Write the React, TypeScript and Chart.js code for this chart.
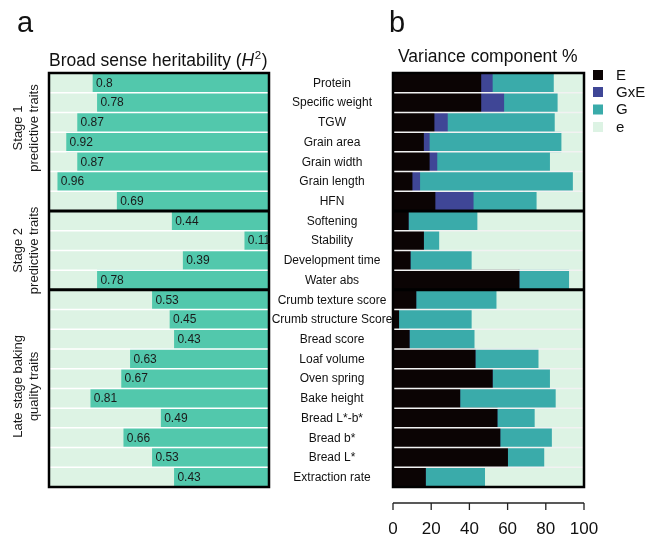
import React, { useEffect, useRef } from "react";
import { Chart, registerables } from "chart.js";
Chart.register(...registerables);

const FONT = '"Liberation Sans", Arial, Helvetica, sans-serif';

const traits = [
  "Protein", "Specific weight", "TGW", "Grain area", "Grain width", "Grain length", "HFN",
  "Softening", "Stability", "Development time", "Water abs",
  "Crumb texture score", "Crumb structure Score", "Bread score", "Loaf volume", "Oven spring",
  "Bake height", "Bread L*-b*", "Bread b*", "Bread L*", "Extraction rate",
];
const heritability = [0.8, 0.78, 0.87, 0.92, 0.87, 0.96, 0.69, 0.44, 0.11, 0.39, 0.78, 0.53, 0.45, 0.43, 0.63, 0.67, 0.81, 0.49, 0.66, 0.53, 0.43];
const heritabilityLabels = ["0.8", "0.78", "0.87", "0.92", "0.87", "0.96", "0.69", "0.44", "0.11", "0.39", "0.78", "0.53", "0.45", "0.43", "0.63", "0.67", "0.81", "0.49", "0.66", "0.53", "0.43"];

const varE = [46, 46, 21.5, 16, 19, 10, 22, 8, 16, 9, 66, 12, 3, 8.5, 43, 52, 35, 54.5, 56, 60, 17];
const varGxE = [6, 12, 7, 3, 4, 4, 20, 0, 0, 0, 0, 0, 0, 0, 0, 0, 0, 0, 0, 0, 0];
const varG = [32, 28, 56, 69, 59, 80, 33, 36, 8, 32, 26, 42, 38, 34, 33, 30, 50, 19.5, 27, 19, 31];
const varResid = [16, 14, 15.5, 12, 18, 6, 25, 56, 76, 59, 8, 46, 59, 57.5, 24, 18, 15, 26, 17, 21, 52];

const componentNames = ["E", "GxE", "G", "e"];
const componentColors = ["#0b0404", "#3f4696", "#3aabaa", "#ddf3e4"];

const groupLines = [["Stage 1", "predictive traits"], ["Stage 2", "predictive traits"], ["Late stage baking", "quality traits"]];
const groupFirst = [0, 7, 11];
const groupLast = [6, 10, 20];
const groupLabelShift = [-14, 0, -2];

const H_BAR = "#52c8ac";
const H_BG = "#ddf3e4";

function rowBoundaries(chart: any) {
  const ys = chart.scales.y;
  const out: number[] = [];
  for (let i = 1; i < traits.length; i++) {
    out.push((ys.getPixelForTick(i - 1) + ys.getPixelForTick(i)) / 2);
  }
  return out;
}

function drawFrame(chart: any, sepColor: string) {
  const ctx = chart.ctx;
  const a = chart.chartArea;
  const b = rowBoundaries(chart);
  ctx.save();
  ctx.strokeStyle = sepColor;
  ctx.lineWidth = 1.5;
  b.forEach((y) => {
    ctx.beginPath();
    ctx.moveTo(a.left, y);
    ctx.lineTo(a.right, y);
    ctx.stroke();
  });
  ctx.strokeStyle = "#000";
  ctx.lineWidth = 3;
  groupFirst.slice(1).forEach((g) => {
    const y = b[g - 1];
    ctx.beginPath();
    ctx.moveTo(a.left, y);
    ctx.lineTo(a.right, y);
    ctx.stroke();
  });
  ctx.lineWidth = 2.5;
  ctx.strokeRect(a.left, a.top, a.right - a.left, a.bottom - a.top);
  ctx.restore();
}

const leftPlugin = {
  id: "leftDecor",
  beforeDatasetsDraw(chart: any) {
    const a = chart.chartArea;
    const ctx = chart.ctx;
    ctx.save();
    ctx.fillStyle = H_BG;
    ctx.fillRect(a.left, a.top, a.right - a.left, a.bottom - a.top);
    ctx.restore();
  },
  afterDatasetsDraw(chart: any) {
    const ctx = chart.ctx;
    drawFrame(chart, "#ffffff");
    const meta = chart.getDatasetMeta(0);
    ctx.save();
    ctx.fillStyle = "#1a1a1a";
    ctx.font = `12px ${FONT}`;
    ctx.textAlign = "left";
    ctx.textBaseline = "middle";
    meta.data.forEach((el: any, i: number) => {
      ctx.fillText(heritabilityLabels[i], el.x + 3, el.y + 0.5);
    });
    // group labels
    const ys = chart.scales.y;
    ctx.font = `13px ${FONT}`;
    ctx.textAlign = "center";
    groupLines.forEach((lines, gi) => {
      const cy = (ys.getPixelForTick(groupFirst[gi]) + ys.getPixelForTick(groupLast[gi])) / 2 + groupLabelShift[gi];
      const xs = [18, 34];
      lines.forEach((t, li) => {
        ctx.save();
        ctx.translate(xs[li], cy);
        ctx.rotate(-Math.PI / 2);
        ctx.fillText(t, 0, 0);
        ctx.restore();
      });
    });
    // title
    ctx.fillStyle = "#111";
    ctx.textBaseline = "alphabetic";
    ctx.textAlign = "left";
    let x = 49;
    const base = 66;
    ctx.font = `17.5px ${FONT}`;
    const p1 = "Broad sense heritability (";
    ctx.fillText(p1, x, base);
    x += ctx.measureText(p1).width;
    ctx.font = `italic 17.5px ${FONT}`;
    ctx.fillText("H", x, base);
    x += ctx.measureText("H").width;
    ctx.font = `11.5px ${FONT}`;
    ctx.fillText("2", x + 0.5, base - 7.5);
    x += ctx.measureText("2").width + 1;
    ctx.font = `17.5px ${FONT}`;
    ctx.fillText(")", x, base);
    // panel letter
    ctx.font = `29px ${FONT}`;
    ctx.fillText("a", 17, 32);
    ctx.restore();
  },
};

const rightPlugin = {
  id: "rightDecor",
  afterDatasetsDraw(chart: any) {
    const ctx = chart.ctx;
    drawFrame(chart, "#f2f2f2");
    const ys = chart.scales.y;
    const xs = chart.scales.x;
    const a = chart.chartArea;
    ctx.save();
    // category labels
    ctx.fillStyle = "#111";
    ctx.font = `12px ${FONT}`;
    ctx.textAlign = "center";
    ctx.textBaseline = "middle";
    traits.forEach((t, i) => {
      ctx.fillText(t, 62, ys.getPixelForTick(i) + 0.5);
    });
    // axis line with ticks
    const ay = a.bottom + 16;
    ctx.strokeStyle = "#222";
    ctx.lineWidth = 1.3;
    ctx.beginPath();
    ctx.moveTo(xs.getPixelForValue(xs.min), ay);
    ctx.lineTo(xs.getPixelForValue(xs.max), ay);
    ctx.stroke();
    xs.ticks.forEach((t: any) => {
      const px = xs.getPixelForValue(t.value);
      ctx.beginPath();
      ctx.moveTo(px, ay);
      ctx.lineTo(px, ay + 7);
      ctx.stroke();
    });
    // legend
    const lx = 323;
    const lys = [75, 92, 109.5, 127];
    chart.data.datasets.forEach((ds: any, i: number) => {
      ctx.fillStyle = ds.backgroundColor;
      ctx.fillRect(lx, lys[i] - 5, 10, 10);
      ctx.fillStyle = "#111";
      ctx.font = `15px ${FONT}`;
      ctx.textAlign = "left";
      ctx.fillText(ds.label, 346, lys[i] + 0.5);
    });
    // title + letter
    ctx.textBaseline = "alphabetic";
    ctx.textAlign = "left";
    ctx.font = `17.5px ${FONT}`;
    ctx.fillText("Variance component %", 128, 62);
    ctx.font = `29px ${FONT}`;
    ctx.fillText("b", 119, 32);
    ctx.restore();
  },
};

export default function App() {
  const leftRef = useRef<HTMLCanvasElement>(null);
  const rightRef = useRef<HTMLCanvasElement>(null);

  useEffect(() => {
    Chart.defaults.font.family = FONT;
    const left = new Chart(leftRef.current as HTMLCanvasElement, {
      type: "bar",
      data: {
        labels: traits,
        datasets: [
          {
            label: "H2",
            data: heritability,
            backgroundColor: H_BAR,
            borderWidth: 0,
            categoryPercentage: 1,
            barPercentage: 1,
          },
        ],
      },
      options: {
        indexAxis: "y",
        animation: false,
        responsive: false,
        maintainAspectRatio: false,
        layout: { padding: { left: 49, right: 31, top: 73, bottom: 49 } },
        scales: {
          x: { display: false, min: 0, max: 1, reverse: true },
          y: { display: false },
        },
        plugins: { legend: { display: false }, tooltip: { enabled: false } },
      },
      plugins: [leftPlugin],
    } as any);

    const series = [varE, varGxE, varG, varResid];
    const right = new Chart(rightRef.current as HTMLCanvasElement, {
      type: "bar",
      data: {
        labels: traits,
        datasets: series.map((d, i) => ({
          label: componentNames[i],
          data: d,
          backgroundColor: componentColors[i],
          borderWidth: 0,
          categoryPercentage: 1,
          barPercentage: 1,
        })),
      },
      options: {
        indexAxis: "y",
        animation: false,
        responsive: false,
        maintainAspectRatio: false,
        layout: { padding: { left: 123, right: 73, top: 73, bottom: 0 } },
        scales: {
          x: {
            stacked: true,
            min: 0,
            max: 100,
            position: "bottom",
            border: { display: false },
            grid: { display: true, drawOnChartArea: false, drawTicks: true, tickLength: 23, color: "rgba(0,0,0,0)" },
            ticks: { stepSize: 20, padding: 9, color: "#111", font: { size: 17, family: FONT }, maxRotation: 0 },
            afterFit: (s: any) => { s.height = 49; },
          },
          y: { stacked: true, display: false },
        },
        plugins: { legend: { display: false }, tooltip: { enabled: false } },
      },
      plugins: [rightPlugin],
    } as any);

    return () => {
      left.destroy();
      right.destroy();
    };
  }, []);

  return (
    <div style={{ position: "fixed", left: 0, top: 0, width: 657, height: 536, overflow: "hidden", background: "#fff" }}>
      <canvas ref={leftRef} width={300} height={536} style={{ position: "absolute", left: 0, top: 0, width: 300, height: 536 }} />
      <canvas ref={rightRef} width={387} height={536} style={{ position: "absolute", left: 270, top: 0, width: 387, height: 536 }} />
    </div>
  );
}
